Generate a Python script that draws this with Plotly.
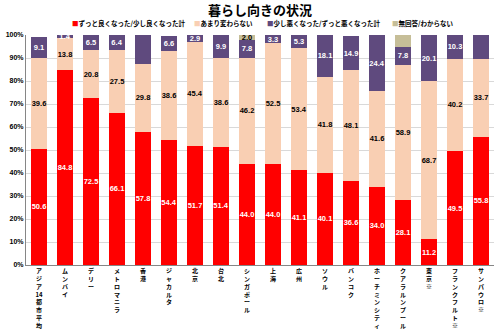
import plotly.graph_objects as go

categories = ["アジア14都市平均", "ムンバイ", "デリー", "メトロマニラ", "香港", "ジャカルタ", "北京", "台北",
              "シンガポール", "上海", "広州", "ソウル", "バンコク", "ホーチミンシティ", "クアラルンプール",
              "東京※", "フランクフルト※", "サンパウロ※"]
better = [50.6, 84.8, 72.5, 66.1, 57.8, 54.4, 51.7, 51.4, 44.0, 44.0, 41.1, 40.1, 36.6, 34.0, 28.1, 11.2, 49.5, 55.8]
same = [39.6, 13.8, 20.8, 27.5, 29.8, 38.6, 45.4, 38.6, 46.2, 52.5, 53.4, 41.8, 48.1, 41.6, 58.9, 68.7, 40.2, 33.7]
worse = [9.1, 1.4, 6.5, 6.4, 12.5, 6.6, 2.9, 9.9, 7.8, 3.3, 5.3, 18.1, 14.9, 24.4, 7.8, 20.1, 10.3, 10.6]
noans = [None, None, None, None, None, None, None, None, 2.0, None, None, None, None, None, 5.3, None, None, None]
series_names = ["ずっと良くなった/少し良くなった計", "あまり変わらない", "少し悪くなった/ずっと悪くなった計", "無回答/わからない"]
colors = ["#FF0000", "#F9CFB3", "#5F4A7E", "#C6BE98"]
text_colors = ["white", "black", "white", "black"]
title = "暮らし向きの状況"

def vert(s):
    parts = []
    i = 0
    while i < len(s):
        if s[i].isdigit():
            j = i
            while j < len(s) and s[j].isdigit():
                j += 1
            parts.append(s[i:j])
            i = j
        else:
            parts.append(s[i])
            i += 1
    return "<br>".join(parts)

ticktext = [vert(c) for c in categories]
FONT = "Noto Sans CJK JP"

fig = go.Figure()
for name, vals, col, tc in zip(series_names, [better, same, worse, noans], colors, text_colors):
    fig.add_trace(go.Bar(
        x=categories, y=vals, name=name, marker_color=col, marker_line_width=0,
        text=[("%.1f" % v) if v is not None else "" for v in vals],
        texttemplate="%{text}", textposition="inside", insidetextanchor="middle",
        textangle=0, cliponaxis=False,
        textfont=dict(color=tc, size=7.5, family="Liberation Sans", weight="bold"),
        showlegend=False,
    ))

fig.update_layout(
    barmode="stack", bargap=0.36,
    width=500, height=333,
    margin=dict(l=26, r=6, t=35, b=68),
    paper_bgcolor="white", plot_bgcolor="white",
    uniformtext=dict(mode="show", minsize=7.5),
    font=dict(family=FONT, color="black"),
)
fig.update_yaxes(range=[0, 100], dtick=10, ticksuffix="%", showgrid=True, gridcolor="#D9D9D9",
                 gridwidth=1, showline=True, linecolor="#868686", linewidth=1, ticks="",
                 tickfont=dict(size=7, family="Liberation Sans", weight="bold"), zeroline=False,
                 automargin=False)
fig.update_xaxes(tickmode="array", tickvals=categories, ticktext=ticktext, tickangle=0,
                 showline=True, linecolor="#868686", linewidth=1, ticks="",
                 tickfont=dict(size=6, family=FONT, weight="bold"), automargin=False)

fig.add_annotation(text="<b>" + title + "</b>", xref="paper", yref="paper", x=0.5, y=1.111,
                   xanchor="center", yanchor="middle", showarrow=False,
                   font=dict(size=13, family=FONT, color="black"))

legend_x = [0.094, 0.355, 0.511, 0.778]
for name, col, lx in zip(series_names, colors, legend_x):
    fig.add_annotation(text='<span style="color:%s">■</span>%s' % (col, name), xref="paper", yref="paper",
                       x=lx, y=1.052, xanchor="left", yanchor="middle", showarrow=False,
                       font=dict(size=6.5, family=FONT, color="black", weight="bold"))

fig.write_html("out.html")
